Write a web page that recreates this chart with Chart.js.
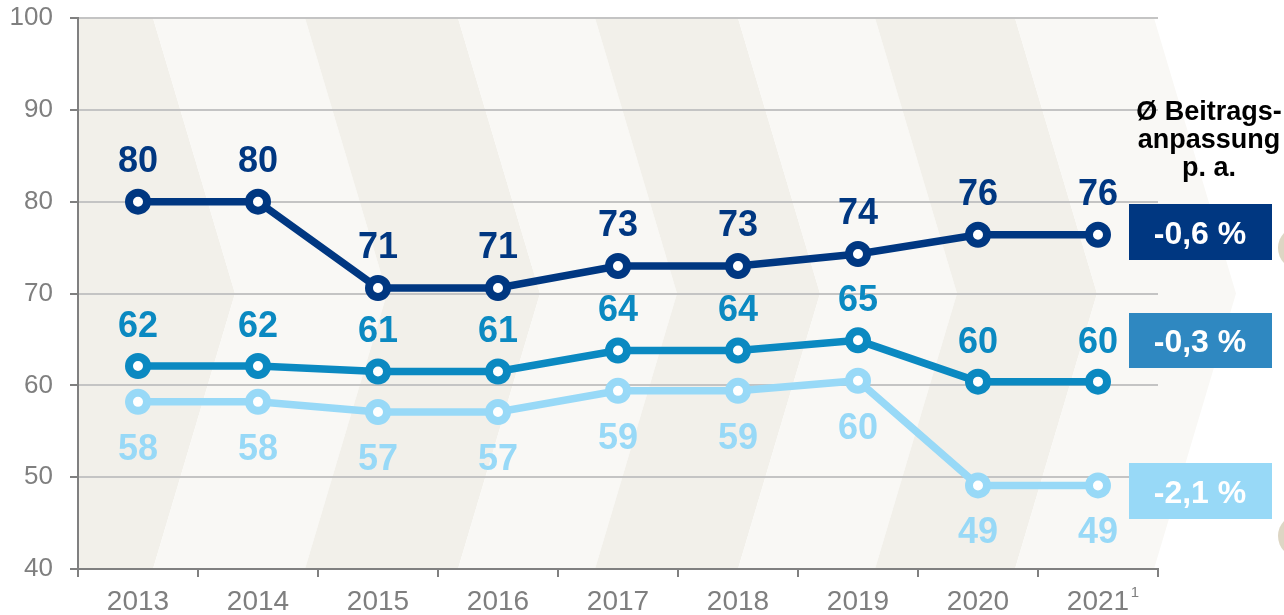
<!DOCTYPE html>
<html lang="de">
<head>
<meta charset="utf-8">
<title>Beitragsanpassung</title>
<script src="https://cdn.jsdelivr.net/npm/chart.js@4.4.1/dist/chart.umd.min.js"></script>
<style>
  html, body { margin: 0; padding: 0; background: #fff; }
  #wrap { width: 1284px; height: 615px; }
</style>
</head>
<body>
<div id="wrap"><canvas id="chart" width="1284" height="615"></canvas></div>
<script>
// -----------------------------------------
// DATA
// -----------------------------------------
const YEARS = ['2013', '2014', '2015', '2016', '2017', '2018', '2019', '2020', '2021'];

const SERIES_TOP    = [80.0, 80.0, 70.6, 70.6, 73.0, 73.0, 74.3, 76.4, 76.4];
const SERIES_MID    = [62.1, 62.1, 61.5, 61.5, 63.8, 63.8, 64.9, 60.4, 60.4];
const SERIES_LOW    = [58.2, 58.2, 57.1, 57.1, 59.4, 59.4, 60.5, 49.1, 49.1];

const LABELS_TOP    = ['80', '80', '71', '71', '73', '73', '74', '76', '76'];
const LABELS_MID    = ['62', '62', '61', '61', '64', '64', '65', '60', '60'];
const LABELS_LOW    = ['58', '58', '57', '57', '59', '59', '60', '49', '49'];

const Y_TICKS       = [40, 50, 60, 70, 80, 90, 100];

const CHANGE_TITLE  = ['Ø Beitrags-', 'anpassung', 'p. a.'];
const CHANGE_VALUES = ['-0,6 %', '-0,3 %', '-2,1 %'];
const FOOTNOTE      = '1';

// -----------------------------------------
// STYLE
// -----------------------------------------
const FONT   = '"Liberation Sans", Arial, sans-serif';
const NAVY   = '#003781';
const BLUE   = '#0b89c1';
const SKY    = '#98d9f7';
const GREY   = '#7f7f7f';
const BEIGE  = '#f2f0ea';
const CREAM  = '#f9f8f5';

// label offset from the point (px, negative = above)
const LABEL_SHIFT = [-42, -41, 46];
// right hand boxes: top / bottom in canvas px
const BOX_ROWS   = [[204, 260], [313, 368], [463, 519]];
const BOX_COLORS = [NAVY, '#2f88c1', SKY];

// -----------------------------------------
// PLUGIN: chevron background
// -----------------------------------------
const chevronBg = {
  id: 'chevronBg',
  beforeDraw(chart) {
    const { ctx, chartArea: a } = chart;
    // band edges at the top of the plot, px from the left edge
    const edges = [-200, 75, 227, 380, 517, 660, 797, 937, 1076];
    const tip   = 82;
    const mid   = (a.top + a.bottom) / 2;
    ctx.save();
    ctx.beginPath();
    ctx.rect(a.left, 0, chart.width - a.left, chart.height);
    ctx.clip();
    for (let i = 0; i < edges.length - 1; i++) {
      const x0 = a.left + edges[i];
      const x1 = a.left + edges[i + 1];
      ctx.fillStyle = i % 2 === 0 ? BEIGE : CREAM;
      ctx.beginPath();
      ctx.moveTo(x0, a.top);
      ctx.lineTo(x1, a.top);
      ctx.lineTo(x1 + tip, mid);
      ctx.lineTo(x1, a.bottom);
      ctx.lineTo(x0, a.bottom);
      ctx.lineTo(x0 + tip, mid);
      ctx.closePath();
      ctx.fill();
    }
    ctx.restore();

    // decorative circles, cut by the right edge
    ctx.save();
    ctx.fillStyle = '#ddd6c4';
    [248, 536].forEach(cy => {
      ctx.beginPath();
      ctx.arc(chart.width + 16, cy, 22, 0, Math.PI * 2);
      ctx.fill();
    });
    ctx.restore();
  }
};

// -----------------------------------------
// PLUGIN: value labels, boxes, header, footnote
// -----------------------------------------
const annotations = {
  id: 'annotations',
  afterDatasetsDraw(chart) {
    const { ctx } = chart;
    const texts = [LABELS_TOP, LABELS_MID, LABELS_LOW];

    ctx.save();
    ctx.font = 'bold 36px ' + FONT;
    ctx.textAlign = 'center';
    ctx.textBaseline = 'middle';
    chart.data.datasets.forEach((ds, di) => {
      const meta = chart.getDatasetMeta(di);
      ctx.fillStyle = ds.borderColor;
      meta.data.forEach((pt, i) => {
        ctx.fillText(texts[di][i], pt.x, pt.y + LABEL_SHIFT[di] + 2);
      });
    });

    // header above the boxes
    ctx.fillStyle = '#000';
    ctx.font = 'bold 27px ' + FONT;
    ctx.textBaseline = 'alphabetic';
    CHANGE_TITLE.forEach((t, i) => ctx.fillText(t, 1209, 120 + i * 28));

    // coloured boxes with the yearly change
    ctx.font = 'bold 32px ' + FONT;
    ctx.textBaseline = 'middle';
    CHANGE_VALUES.forEach((t, i) => {
      const [y0, y1] = BOX_ROWS[i];
      ctx.fillStyle = BOX_COLORS[i];
      ctx.fillRect(1129, y0, 143, y1 - y0);
      ctx.fillStyle = '#fff';
      ctx.fillText(t, 1200, (y0 + y1) / 2 + 3);
    });

    // footnote mark on the last year
    const x = chart.scales.x.getPixelForValue(YEARS.length - 1);
    ctx.fillStyle = GREY;
    ctx.font = '15px ' + FONT;
    ctx.textBaseline = 'alphabetic';
    ctx.fillText(FOOTNOTE, x + 37, 597);
    ctx.restore();
  }
};

// -----------------------------------------
// CHART
// -----------------------------------------
function lineSet(data, color) {
  return {
    data,
    borderColor: color,
    borderWidth: 7.5,
    pointRadius: 9,
    pointBorderWidth: 8,
    pointBackgroundColor: '#fff',
    pointBorderColor: color,
    pointHoverRadius: 9,
    tension: 0
  };
}

new Chart(document.getElementById('chart'), {
  type: 'line',
  data: {
    labels: YEARS,
    datasets: [
      lineSet(SERIES_TOP, NAVY),
      lineSet(SERIES_MID, BLUE),
      lineSet(SERIES_LOW, SKY)
    ]
  },
  options: {
    responsive: false,
    animation: false,
    layout: { padding: { top: 18, right: 126, left: 0, bottom: 0 } },
    plugins: {
      legend: { display: false },
      tooltip: { enabled: false }
    },
    scales: {
      x: {
        offset: true,
        afterFit: s => { s.height = 46; },
        border: { color: '#808080', width: 2 },
        grid: {
          offset: true,
          drawOnChartArea: false,
          tickLength: 8,
          tickColor: '#808080',
          lineWidth: 2
        },
        ticks: {
          color: GREY,
          padding: 8,
          font: { family: FONT, size: 28 }
        }
      },
      y: {
        min: Y_TICKS[0],
        max: Y_TICKS[Y_TICKS.length - 1],
        afterFit: s => { s.width = 78; s.paddingTop = 0; s.paddingBottom = 0; },
        afterBuildTicks: s => { s.ticks = Y_TICKS.map(v => ({ value: v })); },
        border: { color: '#808080', width: 2 },
        grid: {
          color: '#c4c4c4',
          lineWidth: 2,
          tickLength: 8,
          tickColor: '#808080'
        },
        ticks: {
          color: GREY,
          padding: 17,
          font: { family: FONT, size: 26 }
        }
      }
    }
  },
  plugins: [chevronBg, annotations]
});
</script>
</body>
</html>
